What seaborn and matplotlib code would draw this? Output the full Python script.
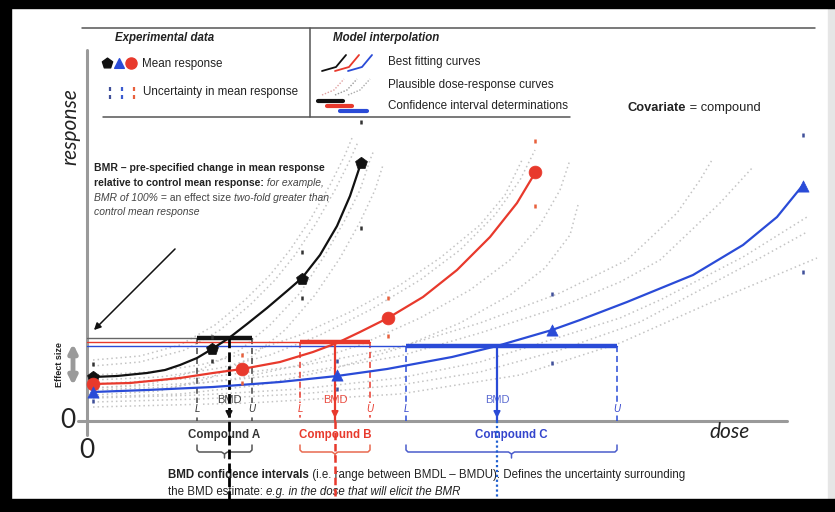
import matplotlib
matplotlib.use("Agg")
import matplotlib.pyplot as plt
import pandas as pd
import seaborn as sns
from matplotlib.patches import Rectangle

# ---- data (dose / response in arbitrary schematic units) ----
# mean responses for each compound
dose_a = [6, 125, 215, 274]
resp_a = [44, 72, 142, 258]
dose_b = [6, 155, 301, 448]
resp_b = [37, 52, 103, 249]
dose_c = [6, 250, 465, 716]
resp_c = [29, 46, 91, 235]

# uncertainty in mean response (lower / upper tick)
unc_lo_a = [33, 60, 123, 193]
unc_hi_a = [57, 84, 169, 299]
unc_lo_b = [29, 38, 85, 215]
unc_hi_b = [47, 66, 123, 280]
unc_lo_c = [20, 32, 58, 149]
unc_hi_c = [38, 60, 127, 286]

# best fitting curves
fit_a_dose = [6, 30, 60, 78, 93, 110, 125, 142, 160, 180, 200, 215, 233, 250, 263, 274]
fit_a_resp = [44, 45, 48, 51, 56, 63, 72, 83, 97, 113, 130, 143, 166, 195, 225, 258]
fit_b_dose = [6, 43, 93, 126, 155, 193, 226, 250, 273, 301, 336, 370, 403, 430, 448]
fit_b_resp = [37, 38, 43, 48, 52, 59, 69, 78, 89, 103, 124, 151, 184, 218, 248]
fit_c_dose = [6, 60, 126, 193, 250, 300, 365, 410, 465, 493, 540, 606, 656, 690, 716]
fit_c_resp = [29, 31, 34, 39, 45, 52, 64, 75, 91, 101, 119, 146, 176, 204, 236]

# plausible dose-response curves
plaus_a_dose = [[6, 53, 93, 128, 158, 183, 203, 223, 243, 258, 265],
                [6, 53, 98, 133, 163, 188, 208, 228, 248, 263, 271],
                [6, 63, 113, 153, 183, 213, 238, 258, 273, 283, 287],
                [6, 73, 123, 163, 198, 228, 253, 273, 288, 296]]
plaus_a_resp = [[61, 65, 76, 96, 121, 146, 171, 201, 236, 266, 283],
                [55, 59, 71, 91, 116, 141, 166, 196, 231, 261, 279],
                [33, 37, 51, 71, 96, 128, 166, 201, 231, 261, 271],
                [26, 30, 43, 63, 91, 126, 163, 199, 231, 256]]
plaus_b_dose = [[6, 63, 113, 163, 213, 263, 313, 353, 393, 418, 435],
                [6, 73, 133, 183, 233, 283, 333, 373, 408, 433, 448],
                [6, 83, 153, 213, 273, 333, 383, 423, 453, 473, 483],
                [6, 93, 173, 243, 313, 373, 423, 458, 483, 491]]
plaus_b_resp = [[46, 49, 56, 69, 86, 109, 136, 163, 196, 226, 261],
                [41, 44, 53, 66, 86, 111, 141, 171, 206, 241, 271],
                [31, 34, 43, 56, 76, 103, 131, 161, 196, 231, 261],
                [24, 27, 36, 51, 73, 98, 126, 153, 186, 216]]
plaus_c_dose = [[6, 113, 213, 313, 393, 473, 540, 590, 613, 625],
                [6, 113, 213, 313, 393, 473, 533, 573, 633, 666],
                [6, 113, 213, 313, 393, 473, 533, 573, 656, 720],
                [6, 113, 213, 313, 393, 473, 553, 613, 673, 720],
                [6, 163, 313, 433, 533, 623, 730]]
plaus_c_resp = [[37, 43, 55, 74, 98, 128, 161, 208, 241, 261],
                [33, 38, 48, 65, 88, 114, 139, 161, 218, 254],
                [23, 26, 32, 43, 59, 84, 103, 121, 164, 204],
                [19, 22, 27, 36, 49, 71, 99, 131, 163, 189],
                [14, 18, 27, 46, 78, 118, 163]]

# benchmark response levels and BMD confidence intervals
compounds = ["Compound A", "Compound B", "Compound C"]
bmr = [83, 79, 75]
bmdl = [110, 213, 319]
bmd = [142, 248, 410]
bmdu = [165, 283, 530]

colors = ["#111111", "#e8392c", "#2a4bd7"]
text_colors = ["#333333", "#e8392c", "#3344cc"]
tick_colors = ["#333333", "#e8603c", "#40509a"]
markers = ["p", "o", "^"]
msize = [80, 85, 65]

sns.set_theme(style="white")
plt.rcParams["font.family"] = ["Liberation Sans", "DejaVu Sans"]

fig = plt.figure(figsize=(8.35, 5.12), dpi=100)
ax = fig.add_axes([0, 0, 1, 1])
ax.set_xlim(-87, 748)
ax.set_ylim(-91, 421)
ax.axis("off")

# ---- plausible curves (grey dotted) ----
for pd_list, pr_list in [(plaus_a_dose, plaus_a_resp), (plaus_b_dose, plaus_b_resp),
                         (plaus_c_dose, plaus_c_resp)]:
    for d, r in zip(pd_list, pr_list):
        sns.lineplot(x=d, y=r, ax=ax, color="#c4c4c4", lw=1.1,
                     linestyle=(0, (1, 2)), estimator=None, sort=False)

# ---- BMR lines and CI bars ----
for i in range(3):
    ax.plot([0, bmdu[i]], [bmr[i], bmr[i]], color=colors[i] if i else "#666666", lw=1.0, zorder=3)
    ax.plot([bmdl[i], bmdu[i]], [bmr[i], bmr[i]], color=colors[i], lw=3.2, zorder=4,
            solid_capstyle="butt")
    # L / U verticals
    for v in (bmdl[i], bmdu[i]):
        ax.plot([v, v], [bmr[i], 0], color=colors[i] if i else "#444444", lw=1.1,
                linestyle=(0, (4, 2.5)), zorder=3)
    ax.text(bmdl[i], 12, "L", color=text_colors[i], fontsize=7, style="italic", ha="center",
            va="center", bbox=dict(fc="white", ec="none", pad=0.5), zorder=5)
    ax.text(bmdu[i], 12, "U", color=text_colors[i], fontsize=7, style="italic", ha="center",
            va="center", bbox=dict(fc="white", ec="none", pad=0.5), zorder=5)

# BMD arrows and continuation lines
ax.plot([bmd[0], bmd[0]], [bmr[0], -91], color="#000000", lw=2.0, linestyle=(0, (3.5, 1.5)), zorder=6)
ax.plot([bmd[1], bmd[1]], [bmr[1], 0], color=colors[1], lw=1.6, zorder=6)
ax.plot([bmd[1], bmd[1]], [0, -91], color=colors[1], lw=1.8, linestyle=(0, (3, 1.5)), zorder=6)
ax.plot([bmd[2], bmd[2]], [bmr[2], 0], color=colors[2], lw=1.6, zorder=6)
ax.plot([bmd[2], bmd[2]], [0, -91], color="#1f5fd0", lw=1.6, linestyle=(0, (1, 1.2)), zorder=6)
for i in range(3):
    ax.annotate("", xy=(bmd[i], 0), xytext=(bmd[i], 12),
                arrowprops=dict(arrowstyle="-|>", color=colors[i], lw=1.2, mutation_scale=10),
                zorder=7)
    ax.text(bmd[i], 21, "BMD", color=text_colors[i] if i != 2 else "#4a5ccc", fontsize=8,
            ha="center", va="center", zorder=5, alpha=0.9)

# ---- best fitting curves ----
for d, r, c in [(fit_a_dose, fit_a_resp, colors[0]), (fit_b_dose, fit_b_resp, colors[1]),
                (fit_c_dose, fit_c_resp, colors[2])]:
    sns.lineplot(x=d, y=r, ax=ax, color=c, lw=1.6, estimator=None, sort=False, zorder=8)

# ---- mean response and uncertainty ticks ----
for d, r, lo, hi, i in [(dose_a, resp_a, unc_lo_a, unc_hi_a, 0),
                        (dose_b, resp_b, unc_lo_b, unc_hi_b, 1),
                        (dose_c, resp_c, unc_lo_c, unc_hi_c, 2)]:
    ticks = pd.DataFrame({"dose": d + d, "resp": lo + hi})
    sns.scatterplot(data=ticks, x="dose", y="resp", ax=ax, marker="|", s=9,
                    color=tick_colors[i], linewidth=1.8, zorder=8)
    sns.scatterplot(x=d, y=r, ax=ax, marker=markers[i], s=msize[i], color=colors[i],
                    edgecolor=colors[i], linewidth=0.5, zorder=9)

# ---- axes ----
ax.plot([0, 0], [-14, 371], color="#9a9a9a", lw=2.2, zorder=2)
ax.plot([-9, 700], [0, 0], color="#9a9a9a", lw=2.2, zorder=2)
ax.text(-19, 0, "0", fontsize=19, ha="center", va="center", family="Lato", color="#222222")
ax.text(0, -29, "0", fontsize=19, ha="center", va="center", family="Lato", color="#222222")
ax.text(-17, 294, "response", fontsize=15, style="italic", rotation=90, ha="center",
        va="center", family="Lato", color="#222222")
ax.text(643, -11, "dose", fontsize=15, style="italic", ha="center", va="center",
        family="Lato", color="#222222")

# effect size arrow
ax.annotate("", xy=(-14, 33), xytext=(-14, 80),
            arrowprops=dict(arrowstyle="<|-|>", color="#9a9a9a", lw=3.5, mutation_scale=12))
ax.text(-28, 56, "Effect size", fontsize=6.5, fontweight="bold", rotation=90,
        ha="center", va="center", color="#222222")

# compound labels and braces
for i in range(3):
    mid = (bmdl[i] + bmdu[i]) / 2
    ax.text(mid, -14, compounds[i], color=text_colors[i], fontsize=8.3, fontweight="bold",
            ha="center", va="center", zorder=5)
    bc = ["#555555", "#e86a50", "#4a5ccc"][i]
    l, u = bmdl[i], bmdu[i]
    ax.plot([l, l, l + 2, mid - 3, mid, mid], [-24, -29, -31, -31, -33, -37], color=bc, lw=1.1)
    ax.plot([u, u, u - 2, mid + 3, mid], [-24, -29, -31, -31, -33], color=bc, lw=1.1)


def rich(x, y, parts, size, color="#222222"):
    t = None
    for s, kw in parts:
        style = {"color": color}
        style.update(kw)
        if t is None:
            t = ax.text(x, y, s, fontsize=size, va="center", ha="left", **style)
        else:
            t = ax.annotate(s, xy=(1, 0), xycoords=t, va="bottom", ha="left",
                            fontsize=size, **style)
    return t


B = {"fontweight": "bold"}
I = {"style": "italic"}
N = {}

# BMR annotation
rich(7, 253, [("BMR – pre-specified change in mean response", B)], 7.5)
rich(7, 238, [("relative to control mean response:", B),
              (" for example,", {"style": "italic", "color": "#444444"})], 7.5)
rich(7, 223, [("BMR of 100%", I), (" = an effect size ", N), ("two-fold greater than", I)],
     7.5, color="#444444")
rich(7, 209, [("control mean response", I)], 7.5, color="#444444")
ax.annotate("", xy=(5, 89), xytext=(90, 174),
            arrowprops=dict(arrowstyle="-|>", color="#111111", lw=1.1, mutation_scale=10))

# bottom explanation
rich(81, -54, [("BMD confidence intervals", B),
               (" (i.e. range between BMDL – BMDU): Defines the uncertainty surrounding", N)], 8.3)
rich(81, -71, [("the BMD estimate: ", N), ("e.g. in the dose that will elicit the BMR", I)], 8.3)

# ---- legend box ----
ax.plot([-5, 728], [393, 393], color="#555555", lw=1.1)
ax.plot([223, 223], [393, 304], color="#555555", lw=1.1)
ax.plot([16, 483], [304, 304], color="#555555", lw=1.1)
ax.text(28, 383, "Experimental data", fontsize=8.3, fontweight="bold", style="italic",
        va="center", color="#222222")
ax.text(246, 383, "Model interpolation", fontsize=8.3, fontweight="bold", style="italic",
        va="center", color="#222222")
for k, (dx, i) in enumerate([(20, 0), (32, 2), (44, 1)]):
    ax.scatter([dx], [358], marker=markers[i], s=msize[i] * 0.75, color=colors[i], zorder=5)
    ax.scatter([dx + 3, dx + 3], [332, 324], marker="|", s=7, linewidths=1.6,
               color=["#40509a", "#3a5bd0", "#e8603c"][k])
ax.text(55, 357, "Mean response", fontsize=8.4, va="center", color="#222222")
ax.text(56, 329, "Uncertainty in mean response", fontsize=8.4, va="center", color="#222222")
for k, c in enumerate(colors):
    off = 13 * k
    ax.plot([235 + off, 249 + off, 259 + off], [350, 354, 366], color=c, lw=1.3)
    ax.plot([235 + off, 247 + off, 257 + off], [326, 331, 342],
            color=["#e0a0a0", "#999999", "#aaaaaa"][k], lw=1.0, linestyle=(0, (1, 1.2)))
ax.plot([231, 256], [320, 320], color=colors[0], lw=3)
ax.plot([240, 265], [315, 315], color=colors[1], lw=3)
ax.plot([253, 280], [310, 310], color=colors[2], lw=3)
ax.text(301, 359, "Best fitting curves", fontsize=8.4, va="center", color="#222222")
ax.text(301, 336, "Plausible dose-response curves", fontsize=8.4, va="center", color="#222222")
ax.text(301, 315, "Confidence interval determinations", fontsize=8.4, va="center", color="#222222")
rich(541, 313, [("Covariate", B), (" = compound", N)], 9.3)

# ---- frame ----
for rect in [(0, 0.984, 1, 0.016), (0, 0, 0.013, 1), (0, 0, 1, 0.025)]:
    ax.add_patch(Rectangle(rect[:2], rect[2], rect[3], transform=ax.transAxes,
                           color="black", zorder=20, clip_on=False))
ax.add_patch(Rectangle((0.992, 0), 0.008, 1, transform=ax.transAxes,
                       color="#e6e6e6", zorder=19, clip_on=False))

fig.savefig("out.png", dpi=100)
